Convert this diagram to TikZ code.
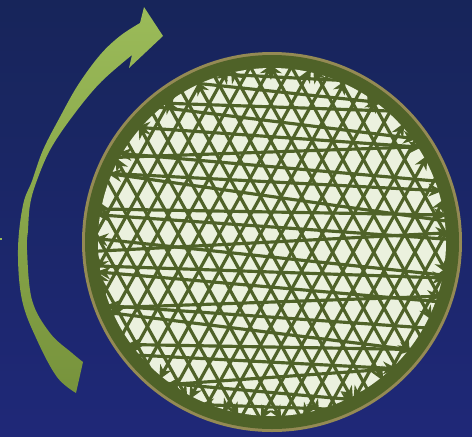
\documentclass[tikz,border=0pt]{standalone}
\usetikzlibrary{arrows.meta,calc}

\definecolor{navytop}{HTML}{17255A}
\definecolor{navybot}{HTML}{1F2878}
\definecolor{leafgreen}{HTML}{9BBB59}
\definecolor{leafdark}{HTML}{77933C}
\definecolor{olive}{HTML}{4F6228}
\definecolor{paleolive}{HTML}{EBF1DE}
\definecolor{rimtan}{HTML}{948A54}

\tikzset{
  chord/.style={draw=olive,line width=2.7pt,-{Stealth[length=12pt,width=11pt]}},
}

\begin{document}
\begin{tikzpicture}[x=0.03cm,y=-0.03cm]
\shade[top color=navytop,bottom color=navybot] (0,0) rectangle (472,436);
\useasboundingbox (0,0) rectangle (472,436);

% curved arrow on the left
\shade[top color=leafgreen,bottom color=leafdark]
  plot[smooth,tension=0.6] coordinates {(76,393) (57,377) (37,340) (22,300) (18,250) (23,205) (32,181) (43,150) (60,117) (78,85) (100,55) (120,36) (140,23)}
  -- (144,7) -- (163,36) -- (129,68)
  -- plot[smooth,tension=0.6] coordinates {(132,55) (100,83) (72,117) (50,150) (36,183) (30,205) (28,230) (27,250) (32,300) (50,333) (72,353) (83,362)}
  -- cycle;
\fill[leafgreen] (0,237.5) rectangle (2,239.5);

% the disc
\coordinate (c) at (272,242);
\fill[rimtan] (c) circle (190);
\fill[olive] (c) circle (187);
\fill[paleolive] (c) circle (174);

% steep chords
\foreach \a/\p in {61/6,119/-4}{
  \foreach \k in {-9,...,9}{
    \pgfmathsetmacro\d{\k*18+\p}
    \pgfmathsetmacro\h{10*sqrt(17.8*17.8-(\d/10)*(\d/10))}
    \pgfmathsetmacro\b{\a+180*mod(\k+20,2)}
    \draw[chord] ($(c)+(\a+90:\d)+(\b+180:\h)$) -- ($(c)+(\a+90:\d)+(\b:\h)$);
  }
}

% flat chords
\foreach \k/\a in {-11/3,-10/6,-9/2,-8/7,-7/4,-6/-2,-5/5,-4/3,-3/8,-2/1,-1/4,0/-3,1/6,2/2,3/5,4/-2,5/4,6/7,7/1,8/3,9/-4,10/5,11/2}{
  \pgfmathsetmacro\d{\k*15}
  \pgfmathsetmacro\h{10*sqrt(17.8*17.8-(\d/10)*(\d/10))}
  \pgfmathsetmacro\b{\a+180*mod(\k+20,2)}
  \draw[chord] ($(c)+(\a+90:\d)+(\b+180:\h)$) -- ($(c)+(\a+90:\d)+(\b:\h)$);
}
\end{tikzpicture}
\end{document}
